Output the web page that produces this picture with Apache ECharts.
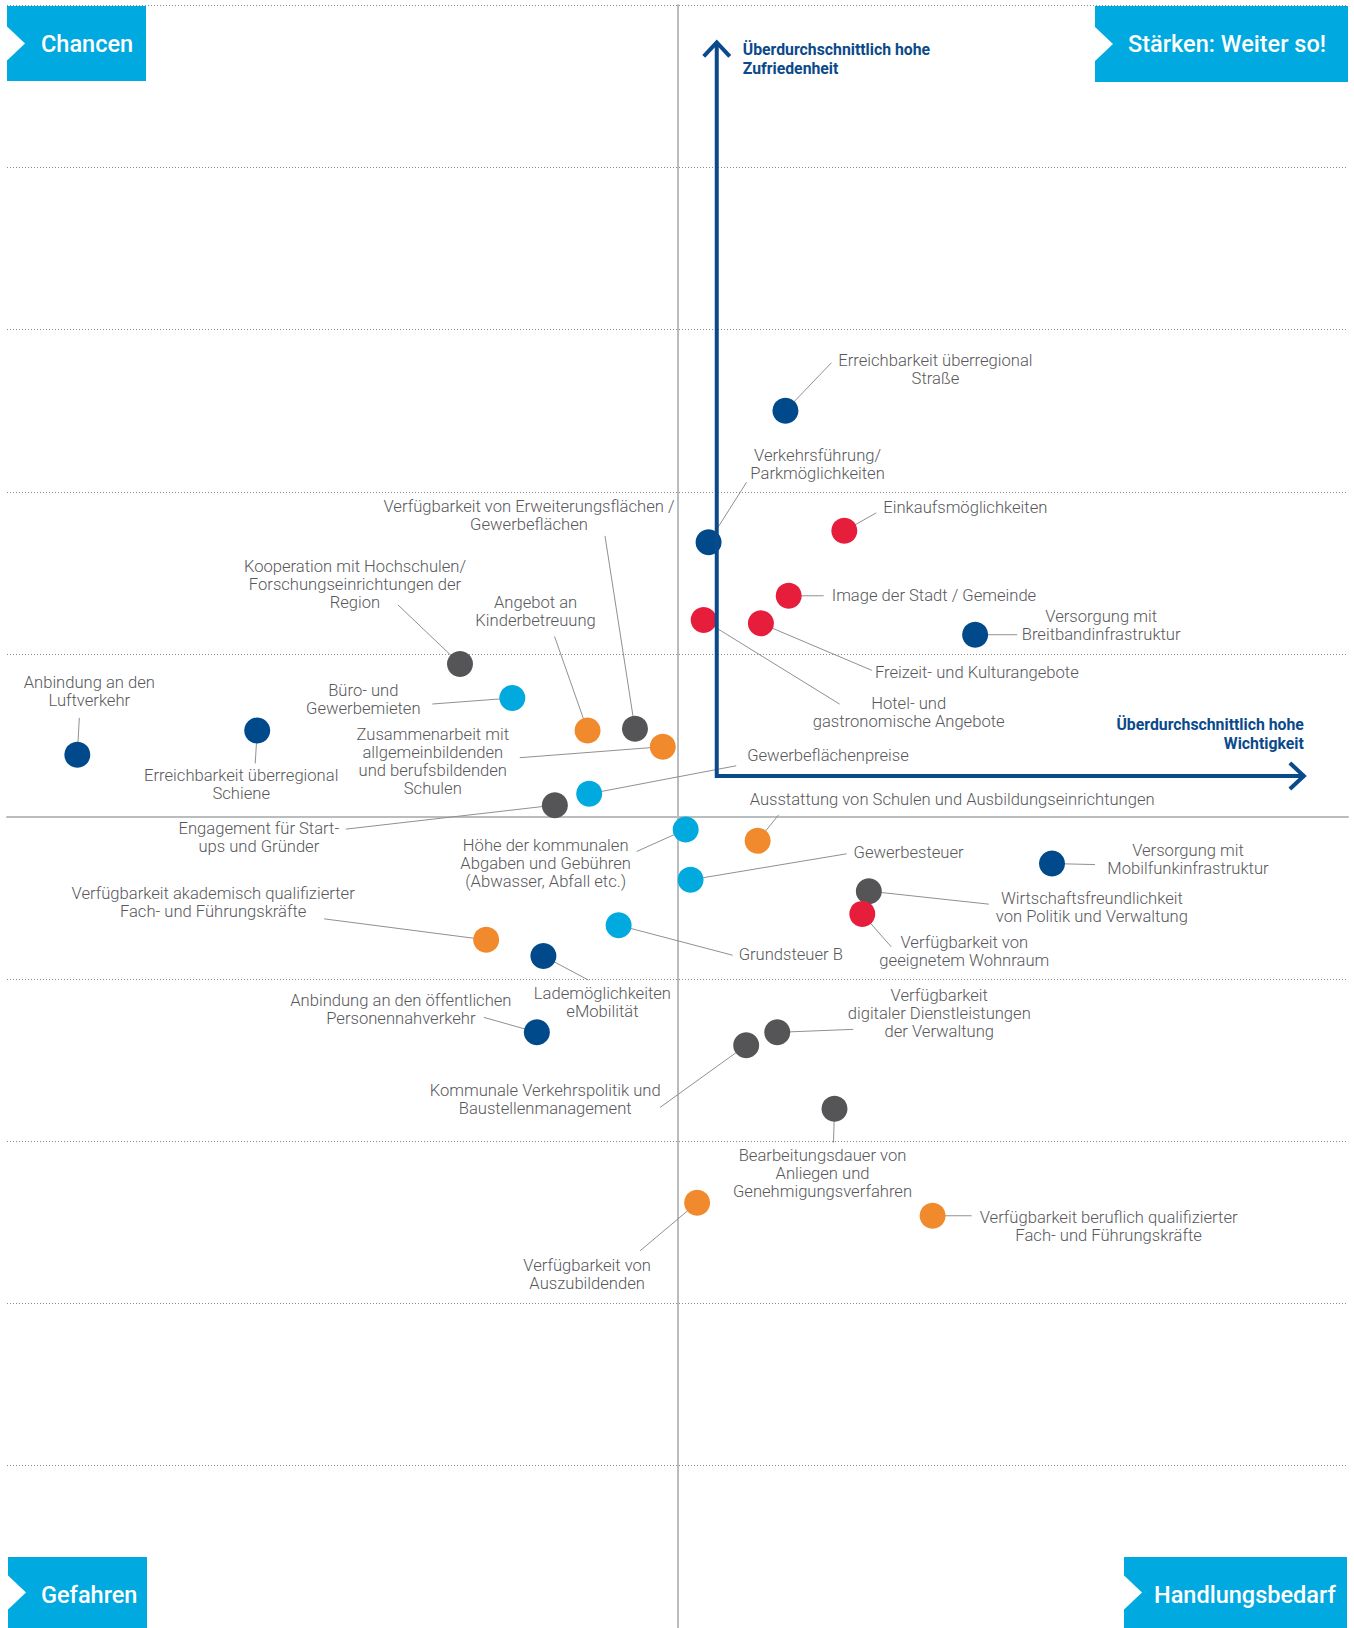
<!DOCTYPE html>
<html><head><meta charset="utf-8">
<script src="https://cdn.jsdelivr.net/npm/echarts@6/dist/echarts.min.js"></script>
<style>html,body{margin:0;padding:0;background:#fff}#c{width:1354px;height:1628px}</style>
</head><body><div id="c"></div>
<script>
// ---------- DATA ----------
const names = [
  'Erreichbarkeit überregional\nStraße',
  'Verkehrsführung/\nParkmöglichkeiten',
  'Einkaufsmöglichkeiten',
  'Image der Stadt / Gemeinde',
  'Hotel- und\ngastronomische Angebote',
  'Freizeit- und Kulturangebote',
  'Versorgung mit\nBreitbandinfrastruktur',
  'Zusammenarbeit mit\nallgemeinbildenden\nund berufsbildenden\nSchulen',
  'Angebot an\nKinderbetreuung',
  'Verfügbarkeit von Erweiterungsflächen /\nGewerbeflächen',
  'Kooperation mit Hochschulen/\nForschungseinrichtungen der\nRegion',
  'Büro- und\nGewerbemieten',
  'Anbindung an den\nLuftverkehr',
  'Erreichbarkeit überregional\nSchiene',
  'Gewerbeflächenpreise',
  'Engagement für Start-\nups und Gründer',
  'Höhe der kommunalen\nAbgaben und Gebühren\n(Abwasser, Abfall etc.)',
  'Ausstattung von Schulen und Ausbildungseinrichtungen',
  'Gewerbesteuer',
  'Versorgung mit\nMobilfunkinfrastruktur',
  'Wirtschaftsfreundlichkeit\nvon Politik und Verwaltung',
  'Verfügbarkeit von\ngeeignetem Wohnraum',
  'Grundsteuer B',
  'Verfügbarkeit akademisch qualifizierter\nFach- und Führungskräfte',
  'Lademöglichkeiten\neMobilität',
  'Anbindung an den öffentlichen\nPersonennahverkehr',
  'Verfügbarkeit\ndigitaler Dienstleistungen\nder Verwaltung',
  'Kommunale Verkehrspolitik und\nBaustellenmanagement',
  'Bearbeitungsdauer von\nAnliegen und\nGenehmigungsverfahren',
  'Verfügbarkeit von\nAuszubildenden',
  'Verfügbarkeit beruflich qualifizierter\nFach- und Führungskräfte'
];
// Wichtigkeit (x, deviation from mean)
const importance = [0.66, 0.19, 1.02, 0.68, 0.16, 0.51, 1.82, -0.09, -0.55, -0.26, -1.33, -1.01, -3.67, -2.57, -0.54, -0.75,
  0.05, 0.49, 0.08, 2.29, 1.17, 1.13, -0.36, -1.17, -0.82, -0.86, 0.61, 0.42, 0.96, 0.12, 1.56];
// Zufriedenheit (y, deviation from mean)
const satisfaction = [2.50, 1.69, 1.76, 1.36, 1.21, 1.19, 1.12, 0.43, 0.53, 0.54, 0.94, 0.73, 0.38, 0.53, 0.14, 0.07,
  -0.08, -0.15, -0.39, -0.29, -0.46, -0.60, -0.67, -0.76, -0.86, -1.33, -1.33, -1.41, -1.80, -2.38, -2.46];
const groups = ['navy','navy','red','red','red','red','navy','orange','orange','gray','gray','cyan','navy','navy','cyan','gray',
  'cyan','orange','cyan','navy','gray','red','cyan','orange','navy','navy','gray','gray','gray','orange','orange'];
const yTicks = [-5, 5, 1];           // min, max, interval (unlabelled)
const xRange = [-4.1, 4.1];
const avgImportance = 0.24;          // "überdurchschnittlich" thresholds
const avgSatisfaction = 0.25;
const arrowEnd = [3.83, 4.77];
const axisTitles = ['Überdurchschnittlich hohe\nZufriedenheit', 'Überdurchschnittlich hohe\nWichtigkeit'];
const quadrantLabels = ['Chancen', 'Stärken: Weiter so!', 'Gefahren', 'Handlungsbedarf'];

// ---------- STYLE / LAYOUT ----------
const groupColors = {navy:'#004a8c', red:'#e61e3c', orange:'#f08a2c', cyan:'#00a9de', gray:'#555558'};
const LABEL_FONT = 'Roboto, "Liberation Sans", sans-serif';
// [text dx, first-line dy, leader end dx, leader end dy, align] relative to dot centre (px)
const labelLayout = [
  [150,-50, 46,-48,'center'],
  [109,-87, 38,-60,'center'],
  [39,-23, 32,-18,'left'],
  [43,0, 35,0,'left'],
  [205,83, 136,84,'center'],
  [114,49, 111,47,'left'],
  [126,-18, 42,0,'center'],
  [-230,-12, -143,11,'center'],
  [-52,-128, -33,-94,'center'],
  [-106,-222, -30,-193,'center'],
  [-105,-97, -62,-59,'center'],
  [-149,-8, -80,6,'center'],
  [12,-72, 2,-37,'center'],
  [-16,45, -2,33,'center'],
  [158,-38, 147,-28,'left'],
  [-296,23, -209,24,'center'],
  [-140,16, -49,22,'center'],
  [-8,-41, 21,-26,'left'],
  [163,-27, 156,-26,'left'],
  [136,-13, 43,1,'center'],
  [223,7, 120,13,'center'],
  [102,29, 29,33,'center'],
  [120,29, 114,30,'left'],
  [-273,-46, -162,-21,'center'],
  [59,37, 45,24,'center'],
  [-136,-32, -53,-15,'center'],
  [162,-37, 76,-3,'center'],
  [-201,45, -86,62,'center'],
  [-12,47, -1,34,'center'],
  [-110,63, -57,48,'center'],
  [176,2, 39,0,'center']
];
const boxes = [ // x, y, w, h, textX, textY
  [7, 6, 139, 75, 41, 44],
  [1095, 6, 253, 76, 1128, 44],
  [8, 1557, 139, 71, 41, 1595],
  [1124, 1557, 223, 71, 1154, 1595]
];
const BOX_COLOR = '#00a9df';
const ARROW_COLOR = '#0b4a8a';

// ---------- CHART ----------
const chart = echarts.init(document.getElementById('c'), null, {renderer:'svg'});
const points = importance.map((x, i) => [x, satisfaction[i]]);

const graphics = [];
boxes.forEach((b, i) => {
  graphics.push({type:'rect', shape:{x:b[0], y:b[1], width:b[2], height:b[3]}, style:{fill:BOX_COLOR}, z:10});
  const my = b[1] + b[3]/2;
  graphics.push({type:'polygon', shape:{points:[[b[0]-1, my-18],[b[0]+18, my],[b[0]-1, my+18]]}, style:{fill:'#fff'}, z:11});
  graphics.push({type:'text', x:b[4], y:b[5], scaleX:0.98, style:{text:quadrantLabels[i], fill:'#fff', fontSize:24, fontWeight:500,
    fontFamily:'Roboto, sans-serif', align:'left', verticalAlign:'middle', textAlign:'left', textVerticalAlign:'middle'}, z:12});
});

const titleStyle = {fill:ARROW_COLOR, fontSize:17, fontWeight:'bold', fontFamily:LABEL_FONT, lineHeight:19};

chart.setOption({
  animation:false,
  backgroundColor:'#fff',
  grid:{left:7, top:5, width:1341, height:1628},
  xAxis:{type:'value', min:xRange[0], max:xRange[1],
    axisLine:{show:true, onZero:true, lineStyle:{color:'#b9bdbd', width:2}},
    axisTick:{show:false}, axisLabel:{show:false}, splitLine:{show:false}},
  yAxis:{type:'value', min:yTicks[0], max:yTicks[1], interval:yTicks[2],
    axisLine:{show:true, onZero:true, lineStyle:{color:'#b9bdbd', width:2}},
    axisTick:{show:false}, axisLabel:{show:false},
    splitLine:{show:true, lineStyle:{type:[1,2], color:'#8a8a8a', width:1}}},
  graphic: graphics,
  series:[
    {
      type:'custom', z:2, clip:false, silent:true,
      data: points,
      renderItem(params, api){
        const i = params.dataIndex;
        const p = api.coord([api.value(0), api.value(1)]);
        const L = labelLayout[i];
        return {type:'group', children:[
          {type:'line', shape:{x1:p[0], y1:p[1], x2:p[0]+L[2], y2:p[1]+L[3]}, style:{stroke:'#909090', lineWidth:1}},
          {type:'text', x:p[0]+L[0], y:p[1]+L[1]-9, style:{text:names[i], fill:'#58585b', fontSize:16.6, fontWeight:300,
            fontFamily:LABEL_FONT, lineHeight:18, align:L[4], verticalAlign:'top', textAlign:L[4], textVerticalAlign:'top'}}
        ]};
      }
    },
    {
      type:'scatter', z:3, symbol:'circle', symbolSize:26, silent:true,
      data: points.map((v, i) => ({value:v, itemStyle:{color:groupColors[groups[i]], opacity:1}}))
    },
    {
      type:'custom', z:4, clip:false, silent:true,
      data:[[avgImportance, avgSatisfaction]],
      renderItem(params, api){
        const o = api.coord([api.value(0), api.value(1)]);
        const vt = api.coord([api.value(0), arrowEnd[1]]);
        const ht = api.coord([arrowEnd[0], api.value(1)]);
        const st = {stroke:ARROW_COLOR, lineWidth:4, fill:'none', lineJoin:'miter'};
        return {type:'group', children:[
          {type:'polyline', shape:{points:[vt, o, ht]}, style:st},
          {type:'polyline', shape:{points:[[vt[0]-13, vt[1]+14],[vt[0], vt[1]],[vt[0]+13, vt[1]+14]]}, style:st},
          {type:'polyline', shape:{points:[[ht[0]-14, ht[1]-13],[ht[0], ht[1]],[ht[0]-14, ht[1]+13]]}, style:st},
          {type:'text', x:vt[0]+26, y:vt[1]-3, scaleX:0.93,
            style:Object.assign({text:axisTitles[0], align:'left', verticalAlign:'top', textAlign:'left', textVerticalAlign:'top'}, titleStyle)},
          {type:'text', x:ht[0], y:ht[1]-61, scaleX:0.93,
            style:Object.assign({text:axisTitles[1], align:'right', verticalAlign:'top', textAlign:'right', textVerticalAlign:'top'}, titleStyle)}
        ]};
      }
    }
  ]
});
</script></body></html>
